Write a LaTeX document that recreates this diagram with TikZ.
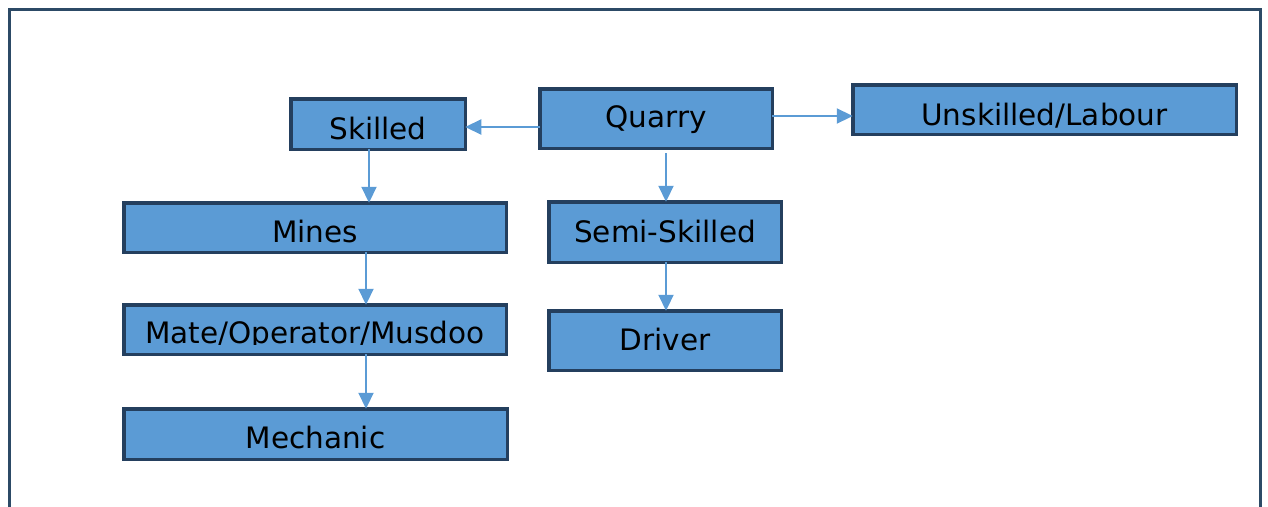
\documentclass[tikz,border=0pt]{standalone}
\usepackage{fontspec}
\setmainfont{DejaVu Sans}
\usetikzlibrary{arrows.meta}
\definecolor{boxfill}{HTML}{5B9BD5}
\definecolor{boxline}{HTML}{243F5E}
\definecolor{frameline}{HTML}{2C4A66}
\definecolor{arrowcol}{HTML}{5B9BD5}
\tikzset{
  bx/.style={draw=boxline, fill=boxfill, line width=3.5pt, inner sep=0pt, outer sep=0pt,
    font=\fontsize{29.5}{34}\selectfont, text=black},
  arr/.style={draw=arrowcol, line width=2.2pt, -{Triangle[length=16pt,width=15pt]}},
}
\newcommand\fbx[7]{%
  \pgfmathsetmacro\fbxw{#4-#2-3.5}%
  \pgfmathsetmacro\fbxh{#6-#3-1.75}%
  \pgfmathsetmacro\fbxd{#5-#6-1.75}%
  \node[bx, minimum width=\fbxw pt, text height=\fbxh pt, text depth=\fbxd pt, anchor=north west] (#1) at (#2+1.75,#3+1.75) {#7};}
\begin{document}
\begin{tikzpicture}[x=1pt,y=-1pt]
\useasboundingbox (0,0) rectangle (1268,506);
% outer frame
\draw[frameline, line width=3.2pt] (9.5,530) -- (9.5,9.5) -- (1260.5,9.5) -- (1260.5,530);
% boxes
\fbx{skilled}{289}{97}{467}{151}{139}{Skilled}
\fbx{quarry}{538}{87}{774}{150}{127}{Quarry}
\fbx{unskilled}{851}{83}{1238}{136}{125}{Unskilled/Labour}
\fbx{mines}{122}{201}{508}{254}{242}{Mines}
\fbx{semi}{547}{200}{783}{264}{242}{Semi-Skilled}
\fbx{mate}{122}{303}{508}{356}{343}{}
\fbx{driver}{547}{309}{783}{372}{350}{Driver}
\fbx{mechanic}{122}{407}{509}{461}{448}{Mechanic}
\begin{scope}
  \clip (mate.north west) rectangle (508,344.5);
  \node[font=\fontsize{29.5}{34}\selectfont, inner sep=0pt, anchor=base] (matetext) at (315,343) {Mate/Operator/Musdoo};
\end{scope}
% connector columns/rows
\coordinate (rowA) at (0,127);
\coordinate (rowB) at (0,116);
\coordinate (colA) at (369,0);
\coordinate (colB) at (366,0);
\coordinate (colC) at (666,0);
\coordinate (qs) at (666,153);
% connectors
\draw[arr] (quarry.west |- rowA) -- (skilled.east |- rowA);
\draw[arr] (quarry.east |- rowB) -- (unskilled.west |- rowB);
\draw[arr] (qs) -- (semi.north -| colC);
\draw[arr] (skilled.south -| colA) -- (mines.north -| colA);
\draw[arr] (mines.south -| colB) -- (mate.north -| colB);
\draw[arr] (mate.south -| colB) -- (mechanic.north -| colB);
\draw[arr] (semi.south -| colC) -- (driver.north -| colC);
\end{tikzpicture}
\end{document}
